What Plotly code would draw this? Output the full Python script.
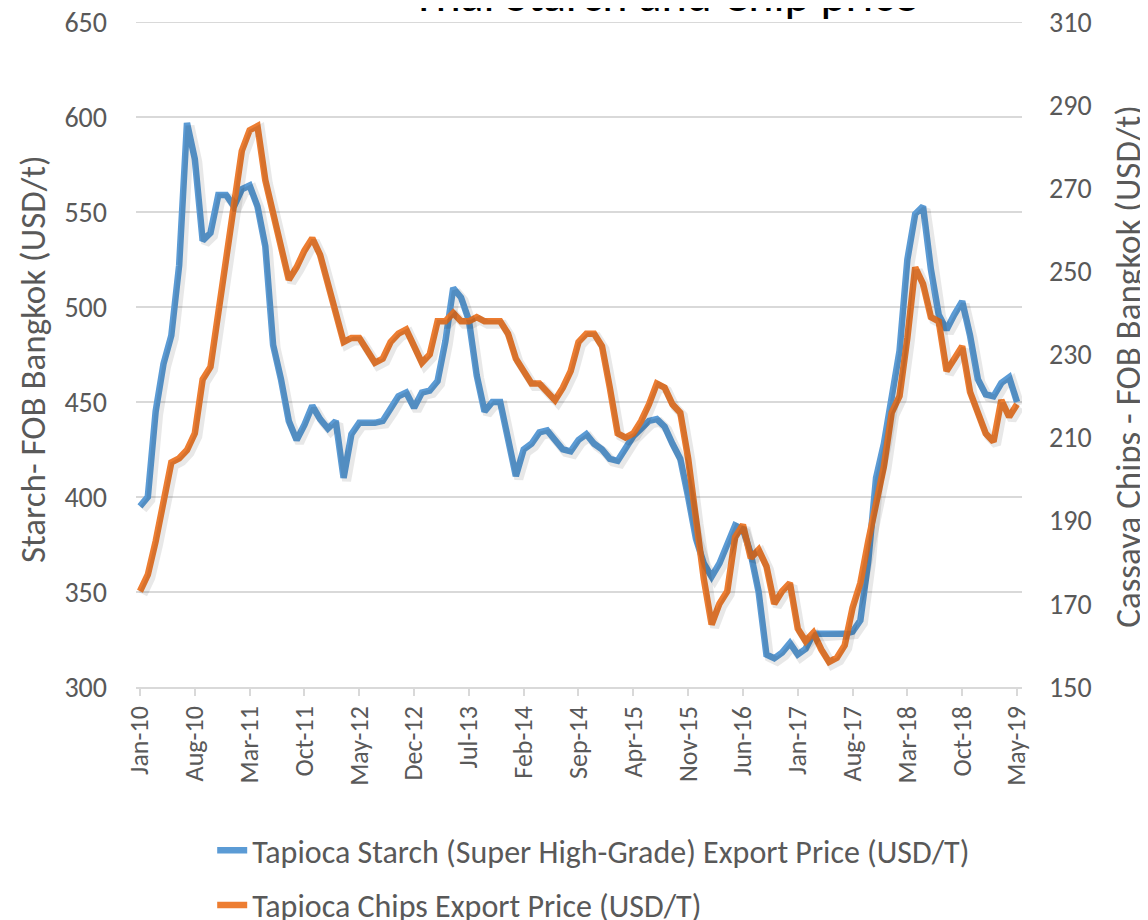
import plotly.graph_objects as go

# Monthly data Jan-2010 .. May-2019 (113 months)
month_index = list(range(113))

starch_usd_t = [
    395, 400, 445, 470, 485, 522, 597, 578, 535, 539,
    559, 559, 553, 562, 564, 553, 532, 480, 462, 440,
    430, 438, 448, 441, 436, 440, 410, 433, 439, 439,
    439, 440, 446, 453, 455, 447, 455, 456, 461, 482,
    510, 505, 493, 464, 445, 450, 450, 430, 411, 425,
    428, 434, 435, 430, 425, 424, 430, 433, 428, 425,
    420, 419, 426, 432, 436, 440, 441, 437, 428, 420,
    400, 378, 365, 358, 365, 374, 385, 383, 370, 350,
    317, 315, 318, 323, 317, 320, 328, 328, 328, 328,
    328, 329, 335, 366, 410, 428, 452, 477, 525, 549,
    553, 520, 496, 488, 496, 503, 485, 462, 454, 453,
    460, 463, 450,
]

chips_usd_t = [
    173, 177, 185, 195, 204, 205, 207, 211, 224, 227,
    240, 253, 266, 279, 284, 285, 272, 264, 257, 248,
    251, 255, 258, 254, 247, 240, 233, 234, 234, 231,
    228, 229, 233, 235, 236, 232, 228, 230, 238, 238,
    240, 238, 238, 239, 238, 238, 238, 235, 229, 226,
    223, 223, 221, 219, 222, 226, 233, 235, 235, 232,
    222, 211, 210, 211, 214, 218, 223, 222, 218, 216,
    205, 190, 176, 165, 170, 173, 186, 189, 181, 183,
    179, 170, 173, 175, 164, 161, 163, 159, 156, 157,
    160, 169, 175, 185, 195, 203, 216, 220, 234, 251,
    247, 239, 238, 226, 229, 232, 221, 216, 211, 209,
    219, 215, 218,
]

tick_positions = [0, 7, 14, 21, 28, 35, 42, 49, 56, 63, 70, 77, 84, 91, 98, 105, 112]
tick_labels = ["Jan-10", "Aug-10", "Mar-11", "Oct-11", "May-12", "Dec-12", "Jul-13",
               "Feb-14", "Sep-14", "Apr-15", "Nov-15", "Jun-16", "Jan-17", "Aug-17",
               "Mar-18", "Oct-18", "May-19"]

left_ticks = [300, 350, 400, 450, 500, 550, 600, 650]
right_ticks = [150, 170, 190, 210, 230, 250, 270, 290, 310]

series_names = ["Tapioca Starch (Super High-Grade) Export Price (USD/T)",
                "Tapioca Chips Export Price (USD/T)"]

BLUE = "#5B9BD5"
ORANGE = "#ED7D31"
GRAY = "#595959"
GRID = "#D9D9D9"
SHADOW = "rgba(0,0,0,0.09)"
FONT = "Carlito, Calibri, Lato, sans-serif"

X_RANGE = [-0.51, 112.64]
Y1_RANGE = [299.9, 650.1]
Y2_RANGE = [149.95, 310.05]
# small pixel offset for the soft drop shadow (via shifted axis ranges)
PLOT_W, PLOT_H, SH_PX = 886.0, 665.0, 3.0
dx = (X_RANGE[1] - X_RANGE[0]) * SH_PX / PLOT_W
dy1 = (Y1_RANGE[1] - Y1_RANGE[0]) * SH_PX / PLOT_H
dy2 = (Y2_RANGE[1] - Y2_RANGE[0]) * SH_PX / PLOT_H

fig = go.Figure()
# shadows (hidden helper axes)
fig.add_trace(go.Scatter(
    x=month_index, y=starch_usd_t, mode="lines", showlegend=False, hoverinfo="skip",
    line=dict(color=SHADOW, width=9), xaxis="x2", yaxis="y3"))
fig.add_trace(go.Scatter(
    x=month_index, y=chips_usd_t, mode="lines", showlegend=False, hoverinfo="skip",
    line=dict(color=SHADOW, width=9), xaxis="x2", yaxis="y4"))
# main series
fig.add_trace(go.Scatter(
    x=month_index, y=starch_usd_t, name=series_names[0], mode="lines",
    line=dict(color=BLUE, width=6.5), xaxis="x", yaxis="y", legendgroup="a"))
fig.add_trace(go.Scatter(
    x=month_index, y=chips_usd_t, name=series_names[1], mode="lines",
    line=dict(color=ORANGE, width=6.5), xaxis="x", yaxis="y2", legendgroup="b"))

hidden = dict(visible=False, showgrid=False, zeroline=False, automargin=False)

fig.update_layout(
    template="none",
    width=1140, height=912,
    paper_bgcolor="white", plot_bgcolor="white",
    margin=dict(l=128, r=126, t=14, b=233, autoexpand=False),
    font=dict(family=FONT, color=GRAY, size=24),
    xaxis=dict(
        range=X_RANGE, tickmode="array", tickvals=tick_positions,
        ticktext=tick_labels, tickangle=-90, tickfont=dict(size=26, color=GRAY),
        showgrid=False, zeroline=False, showline=True, linecolor=GRID, linewidth=1.5,
        ticks="outside", ticklen=7, tickcolor=GRID, tickwidth=1.5, automargin=False,
    ),
    yaxis=dict(
        range=Y1_RANGE, tickmode="array", tickvals=left_ticks, showgrid=True,
        gridcolor=GRID, gridwidth=1.5, zeroline=False, showline=False, ticks="",
        tickfont=dict(size=28, color=GRAY), ticklabelstandoff=28, automargin=False,
        ticklabeloverflow="allow",
    ),
    yaxis2=dict(
        range=Y2_RANGE, tickmode="array", tickvals=right_ticks, overlaying="y",
        side="right", showgrid=False, zeroline=False, showline=False, ticks="",
        tickfont=dict(size=28, color=GRAY), ticklabelstandoff=26, automargin=False,
        ticklabeloverflow="allow",
    ),
    xaxis2=dict(range=[X_RANGE[0] - dx, X_RANGE[1] - dx], overlaying="x", anchor="y3", **hidden),
    yaxis3=dict(range=[Y1_RANGE[0] + dy1, Y1_RANGE[1] + dy1], overlaying="y", anchor="x2", **hidden),
    yaxis4=dict(range=[Y2_RANGE[0] + dy2, Y2_RANGE[1] + dy2], overlaying="y", anchor="x2", **hidden),
    showlegend=True,
    legend=dict(
        x=0.086, y=-0.2045, xanchor="left", yanchor="top", orientation="v",
        font=dict(size=32, color=GRAY), tracegroupgap=10, bgcolor="rgba(0,0,0,0)",
    ),
    shapes=[
        dict(type="line", xref="paper", yref="y", x0=0, x1=1,
             y0=left_ticks[-1], y1=left_ticks[-1], layer="below",
             line=dict(color=GRID, width=1.5)),
    ],
    annotations=[
        dict(text="Thai Starch and Chip price", xref="paper", yref="paper",
             x=0.597, y=0.994, xanchor="center", yanchor="bottom", showarrow=False,
             font=dict(size=48, color="#000000", family=FONT)),
        dict(text="Starch- FOB Bangkok (USD/t)", xref="paper", yref="paper",
             x=-0.1163, y=0.493, xanchor="center", yanchor="middle", textangle=-90,
             showarrow=False, font=dict(size=35, color=GRAY, family=FONT)),
        dict(text="Cassava Chips - FOB Bangkok (USD/t)", xref="paper", yref="paper",
             x=1.1196, y=0.483, xanchor="center", yanchor="middle", textangle=-90,
             showarrow=False, font=dict(size=35, color=GRAY, family=FONT)),
    ],
)

fig.write_html("out.html")
